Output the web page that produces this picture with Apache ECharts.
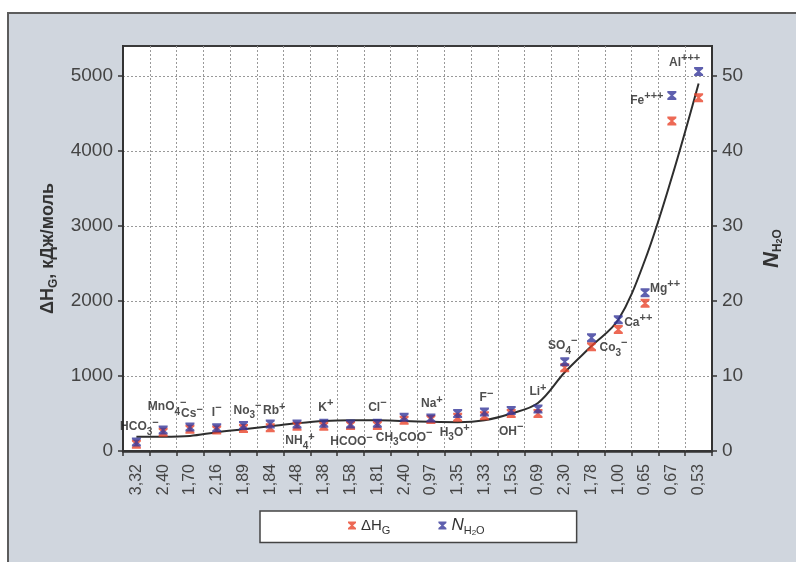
<!DOCTYPE html>
<html>
<head>
<meta charset="utf-8">
<script src="https://cdn.jsdelivr.net/npm/echarts@6/dist/echarts.min.js"></script>
<style>
  html, body { margin: 0; padding: 0; background: #fff; overflow: hidden; }
  #panel { position: absolute; left: 7px; top: 12px; width: 800px; height: 560px;
           background: #d0d6de; border-left: 2px solid #5c5c5c; border-top: 2px solid #5c5c5c; }
  #chart { position: absolute; left: 0; top: 0; width: 796px; height: 562px; }
</style>
</head>
<body>
<div id="panel"></div>
<div id="chart"></div>
<script>
// Ion radii along the x axis (categories, in order)
const categories = ['3,32', '2,40', '1,70', '2,16', '1,89', '1,84', '1,48', '1,38', '1,58', '1,81', '2,40',
                    '0,97', '1,35', '1,33', '1,53', '0,69', '2,30', '1,78', '1,00', '0,65', '0,67', '0,53'];

// Ion names: "_x" = subscript character, "^..." = superscript tail
const ions = ['HCO_3^−', 'MnO_4^−', 'Cs^−', 'I^−', 'No_3^−', 'Rb^+', 'NH_4^+', 'K^+', 'HCOO^−', 'Cl^−', 'CH_3COO^−',
              'Na^+', 'H_3O^+', 'F^−', 'OH^−', 'Li^+', 'SO_4^−', 'Co_3^−', 'Ca^++', 'Mg^++', 'Fe^+++', 'Al^+++'];

// Hydration enthalpy ΔH_G, kJ/mol (left axis)
const enthalpy = [90, 250, 290, 280, 300, 310, 330, 330, 340, 340, 410,
                  420, 450, 470, 500, 500, 1110, 1390, 1620, 1970, 4400, 4710];

// Hydration number N_H2O (right axis)
const hydration = [1.2, 2.8, 3.2, 3.1, 3.4, 3.6, 3.6, 3.7, 3.6, 3.7, 4.5,
                   4.4, 5.0, 5.2, 5.4, 5.6, 11.9, 15.1, 17.5, 21.1, 47.4, 50.6];

// Trend curve for ΔH_G, kJ/mol
const trend = [190, 190, 200, 250, 290, 330, 370, 400, 410, 410, 400,
               390, 385, 410, 500, 640, 1050, 1400, 1750, 2550, 3650, 4900];

// Axis ticks
const leftTicks = [0, 1000, 2000, 3000, 4000, 5000];
const rightTicks = [0, 10, 20, 30, 40, 50];

// Ion label placement relative to the N_H2O marker [dx, dy]
const labelShift = [[3, -15], [4, -23], [2, -13], [0, -15], [4, -15], [4, -13], [3, 17], [2, -16], [1, 18], [0, -16], [0, 20],
                    [1, -14], [-3, 19], [2, -14], [0, 21], [0, -17], [-2, -16], [22, 10], [20, 3], [20, -4], [-25, 5], [-14, -9]];

const FONT = '"Liberation Sans", Arial, sans-serif';

function ionRich(s) {
  let out = '', base = '';
  const flush = () => { if (base) { out += '{b|' + base + '}'; base = ''; } };
  for (let i = 0; i < s.length; i++) {
    const c = s[i];
    if (c === '_') { flush(); out += '{sub|' + s[i + 1] + '}'; i++; }
    else if (c === '^') { flush(); out += '{sup|' + s.slice(i + 1) + '}'; break; }
    else base += c;
  }
  flush();
  return out;
}

const hourglass = 'path://M0,0L10,0L10,2L6.3,5L10,8L10,10L0,10L0,8L3.7,5L0,2Z';

const chart = echarts.init(document.getElementById('chart'), null, { renderer: 'canvas' });

const option = {
  animation: false,
  backgroundColor: 'transparent',
  textStyle: { fontFamily: FONT },
  grid: {
    left: 123, right: 84, top: 46, bottom: 111,
    show: true, backgroundColor: '#fff', borderColor: '#3a3a3a', borderWidth: 2
  },
  legend: {
    data: ['dH', 'N'],
    left: 260, top: 511,
    padding: [6, 92, 6, 88],
    itemGap: 48,
    itemWidth: 8, itemHeight: 8,
    backgroundColor: '#fff',
    borderColor: '#444', borderWidth: 1.5,
    formatter: name => name === 'dH' ? '{a|ΔH}{s|G}' : '{n|N}{s|H}{ss|2}{s|O}',
    textStyle: {
      fontFamily: FONT, fontSize: 16, color: '#333',
      rich: {
        a: { fontFamily: FONT, fontSize: 15, lineHeight: 22, color: '#333' },
        n: { fontFamily: FONT, fontSize: 17, fontStyle: 'italic', lineHeight: 22, color: '#333' },
        s: { fontFamily: FONT, fontSize: 11, lineHeight: 12, verticalAlign: 'bottom', color: '#333' },
        ss: { fontFamily: FONT, fontSize: 8, lineHeight: 8, verticalAlign: 'bottom', color: '#333' }
      }
    }
  },
  xAxis: {
    type: 'category',
    data: categories,
    boundaryGap: true,
    axisLine: { lineStyle: { color: '#333', width: 2.5 } },
    axisTick: { show: true, interval: 0, length: 5, lineStyle: { color: '#333', width: 1.5 } },
    axisLabel: { interval: 0, rotate: 90, margin: 13, fontFamily: FONT, fontSize: 16, color: '#444' },
    splitLine: { show: true, interval: 0, lineStyle: { color: '#999', type: [2, 2], width: 1 } }
  },
  yAxis: [
    {
      type: 'value', min: 0, max: 5400, interval: 1000, position: 'left',
      name: '{a|ΔH}{s|G}{a|, кДж/моль}',
      nameLocation: 'middle', nameGap: 62,
      nameTextStyle: {
        fontFamily: FONT, fontWeight: 'bold', fontSize: 18, color: '#333',
        rich: {
          a: { fontFamily: FONT, fontWeight: 'bold', fontSize: 18, lineHeight: 24, color: '#333' },
          s: { fontFamily: FONT, fontWeight: 'bold', fontSize: 12, lineHeight: 12, verticalAlign: 'bottom', color: '#333' }
        }
      },
      axisLine: { show: true, lineStyle: { color: '#333', width: 2 } },
      axisTick: { show: true, length: 5, customValues: leftTicks, lineStyle: { color: '#333', width: 1.5 } },
      axisLabel: { margin: 10, fontFamily: FONT, fontSize: 19, color: '#444', customValues: leftTicks,
                   formatter: v => String(v) },
      splitLine: { show: true, lineStyle: { color: '#999', type: [2, 2], width: 1 } }
    },
    {
      type: 'value', min: 0, max: 54, interval: 10, position: 'right',
      name: '{n|N}{s|H}{ss|2}{s|O}',
      nameLocation: 'middle', nameGap: 48,
      nameTextStyle: {
        fontFamily: FONT, fontWeight: 'bold', color: '#333',
        rich: {
          n: { fontFamily: FONT, fontWeight: 'bold', fontStyle: 'italic', fontSize: 22, lineHeight: 24, color: '#333' },
          s: { fontFamily: FONT, fontWeight: 'bold', fontSize: 12, lineHeight: 12, verticalAlign: 'bottom', color: '#333' },
          ss: { fontFamily: FONT, fontWeight: 'bold', fontSize: 9, lineHeight: 8, verticalAlign: 'bottom', color: '#333' }
        }
      },
      axisLine: { show: true, lineStyle: { color: '#333', width: 2 } },
      axisTick: { show: true, length: 5, customValues: rightTicks, lineStyle: { color: '#333', width: 1.5 } },
      axisLabel: { margin: 10, fontFamily: FONT, fontSize: 19, color: '#444', customValues: rightTicks },
      splitLine: { show: false }
    }
  ],
  series: [
    {
      name: 'trend', type: 'line', yAxisIndex: 0, data: trend,
      smooth: 0.35, showSymbol: false, symbol: 'none', z: 1,
      lineStyle: { color: '#2e2e2e', width: 2 }
    },
    {
      name: 'dH', type: 'scatter', yAxisIndex: 0, data: enthalpy,
      symbol: hourglass, symbolSize: [9, 9], z: 3,
      itemStyle: { color: '#e8432a' }
    },
    {
      name: 'N', type: 'scatter', yAxisIndex: 1, z: 4,
      symbol: hourglass, symbolSize: [9, 9],
      itemStyle: { color: '#36379a' },
      data: hydration.map((v, i) => ({
        value: v,
        label: { offset: labelShift[i] }
      })),
      label: {
        show: true, position: 'inside',
        formatter: p => ionRich(ions[p.dataIndex]),
        fontFamily: FONT, fontWeight: 'bold', color: '#222',
        rich: {
          b: { fontFamily: FONT, fontWeight: 'bold', fontSize: 12, lineHeight: 20, color: '#222' },
          sub: { fontFamily: FONT, fontWeight: 'bold', fontSize: 10, lineHeight: 9, verticalAlign: 'bottom', color: '#222' },
          sup: { fontFamily: FONT, fontWeight: 'bold', fontSize: 11, lineHeight: 9, verticalAlign: 'top', color: '#222' }
        }
      }
    }
  ]
};

chart.setOption(option);
</script>
</body>
</html>
